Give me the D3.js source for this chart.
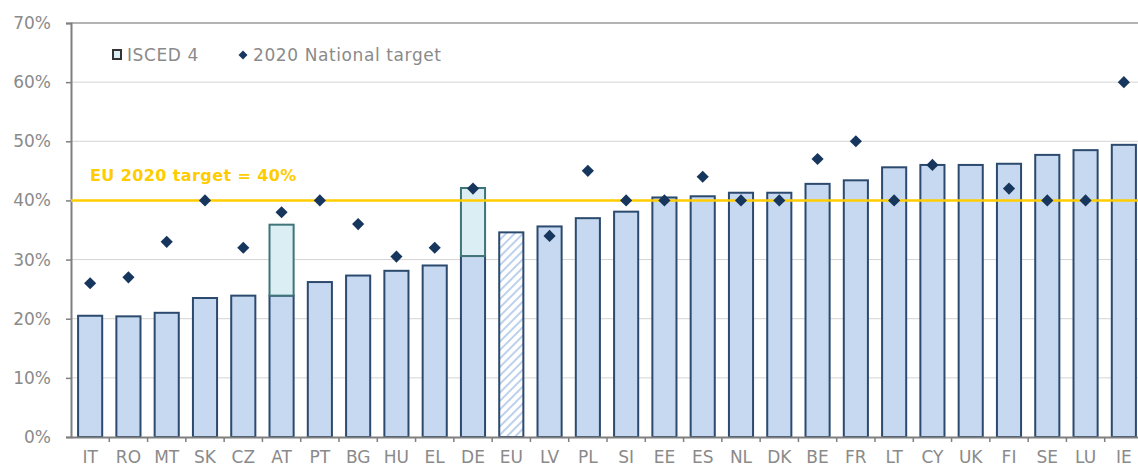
<!DOCTYPE html>
<html>
<head>
<meta charset="utf-8">
<script src="https://cdn.jsdelivr.net/npm/d3@7"></script>
<style>
  body { margin: 0; background: #fff; }
  text { font-family: "DejaVu Sans", Verdana, sans-serif; }
</style>
</head>
<body>
<svg id="chart"></svg>
<script>
// data
var countries = ["IT","RO","MT","SK","CZ","AT","PT","BG","HU","EL","DE","EU","LV","PL","SI","EE","ES","NL","DK","BE","FR","LT","CY","UK","FI","SE","LU","IE"];
var tertiary  = [20.5,20.4,21.0,23.5,23.9,23.9,26.2,27.3,28.1,29.0,30.6,34.6,35.6,37.0,38.1,40.5,40.7,41.3,41.3,42.8,43.4,45.6,46.0,46.0,46.2,47.7,48.5,49.4];
var isced4    = [0,0,0,0,0,12.0,0,0,0,0,11.5,0,0,0,0,0,0,0,0,0,0,0,0,0,0,0,0,0];
var targets   = [26,27,33,40,32,38,40,36,30.5,32,42,null,34,45,40,40,44,40,40,47,50,40,46,null,42,40,40,60];
var yTicks    = [0,10,20,30,40,50,60,70];
var euTarget  = 40;

var width = 1138, height = 470;
var mLeft = 71, mRight = 1143, mTop = 23, mBottom = 437;

var svg = d3.select('#chart')
  .attr('width', width)
  .attr('height', height);

var defs = svg.append('defs');
var hatch = defs.append('pattern')
  .attr('id', 'hatch')
  .attr('patternUnits', 'userSpaceOnUse')
  .attr('width', 6).attr('height', 6)
  .attr('patternTransform', 'rotate(45)');
hatch.append('rect').attr('width', 6).attr('height', 6).attr('fill', '#ffffff');
hatch.append('rect').attr('width', 2).attr('height', 6).attr('fill', '#bcd1ec');

var x = d3.scaleBand()
  .domain(countries)
  .range([mLeft, mRight])
  .paddingInner(0.37)
  .paddingOuter(0.185);

var y = d3.scaleLinear()
  .domain([0, 70])
  .range([mBottom, mTop]);

// gridlines
svg.append('g')
  .selectAll('line')
  .data(yTicks.filter(d => d > 0))
  .enter()
  .append('line')
    .attr('x1', mLeft).attr('x2', width)
    .attr('y1', d => y(d)).attr('y2', d => y(d))
    .attr('stroke', d => d === 70 ? '#9a9a9a' : '#d4d4d4')
    .attr('stroke-width', d => d === 70 ? 1.5 : 1);

// y axis
var yAxis = svg.append('g')
  .attr('transform', 'translate(' + mLeft + ',0)')
  .call(d3.axisLeft(y).tickValues(yTicks).tickFormat(d => d + '%').tickSize(5).tickPadding(15));
yAxis.select('.domain').attr('stroke', '#7f7f7f').attr('stroke-width', 2);
yAxis.selectAll('.tick line').attr('stroke', '#7f7f7f').attr('stroke-width', 1.5);
yAxis.selectAll('.tick text')
  .attr('fill', '#8a8a8a')
  .style('font-size', '17px')
  .style('font-family', '"DejaVu Sans", Verdana, sans-serif');

var rows = countries.map((c, i) => ({ c: c, v: tertiary[i], extra: isced4[i], t: targets[i] }));

// main bars
svg.append('g')
  .selectAll('rect')
  .data(rows)
  .enter()
  .append('rect')
    .attr('x', d => x(d.c))
    .attr('y', d => y(d.v))
    .attr('width', x.bandwidth())
    .attr('height', d => y(0) - y(d.v))
    .attr('fill', d => d.c === 'EU' ? 'url(#hatch)' : '#c6d9f0')
    .attr('stroke', '#2c4a6e')
    .attr('stroke-width', 2);

// ISCED 4 stacked part
svg.append('g')
  .selectAll('rect')
  .data(rows.filter(d => d.extra > 0))
  .enter()
  .append('rect')
    .attr('x', d => x(d.c))
    .attr('y', d => y(d.v + d.extra))
    .attr('width', x.bandwidth())
    .attr('height', d => y(d.v) - y(d.v + d.extra))
    .attr('fill', '#daeef3')
    .attr('stroke', '#3f7479')
    .attr('stroke-width', 2);

// x axis
var xAxis = svg.append('g')
  .attr('transform', 'translate(0,' + mBottom + ')')
  .call(d3.axisBottom(x).tickSize(0).tickPadding(14));
xAxis.select('.domain').attr('stroke', '#7f7f7f').attr('stroke-width', 2);
xAxis.selectAll('.tick text')
  .attr('fill', '#8a8a8a')
  .style('font-size', '17px')
  .style('font-family', '"DejaVu Sans", Verdana, sans-serif');
svg.append('g')
  .selectAll('line')
  .data(countries.slice(1))
  .enter()
  .append('line')
    .attr('x1', d => x(d) - x.step() * x.paddingInner() / 2)
    .attr('x2', d => x(d) - x.step() * x.paddingInner() / 2)
    .attr('y1', mBottom).attr('y2', mBottom + 5)
    .attr('stroke', '#7f7f7f').attr('stroke-width', 1.5);

// EU 2020 target line
svg.append('line')
  .attr('x1', mLeft).attr('x2', width)
  .attr('y1', y(euTarget)).attr('y2', y(euTarget))
  .attr('stroke', '#ffcc00')
  .attr('stroke-width', 2.5);
svg.append('text')
  .attr('x', 90)
  .attr('y', y(euTarget) - 19)
  .attr('fill', '#ffcc00')
  .style('font-size', '16px')
  .style('font-weight', 'bold')
  .style('letter-spacing', '0.4px')
  .text('EU 2020 target = 40%');

// national targets
var diamond = d3.symbol().type(d3.symbolSquare).size(74);
svg.append('g')
  .selectAll('path')
  .data(rows.filter(d => d.t !== null))
  .enter()
  .append('path')
    .attr('d', diamond)
    .attr('transform', d => 'translate(' + (x(d.c) + x.bandwidth() / 2) + ',' + y(d.t) + ') rotate(45)')
    .attr('fill', '#17365d');

// legend
var legend = svg.append('g');
legend.append('rect')
  .attr('x', 113).attr('y', 50)
  .attr('width', 8).attr('height', 9)
  .attr('fill', '#daeef3')
  .attr('stroke', '#333').attr('stroke-width', 2);
legend.append('text')
  .attr('x', 127).attr('y', 61)
  .attr('fill', '#8a8a8a')
  .style('font-size', '17px')
  .style('letter-spacing', '0.6px')
  .text('ISCED 4');
legend.append('path')
  .attr('d', d3.symbol().type(d3.symbolSquare).size(40))
  .attr('transform', 'translate(243,55) rotate(45)')
  .attr('fill', '#17365d');
legend.append('text')
  .attr('x', 253).attr('y', 61)
  .attr('fill', '#8a8a8a')
  .style('font-size', '17px')
  .style('letter-spacing', '0.6px')
  .text('2020 National target');
</script>
</body>
</html>
